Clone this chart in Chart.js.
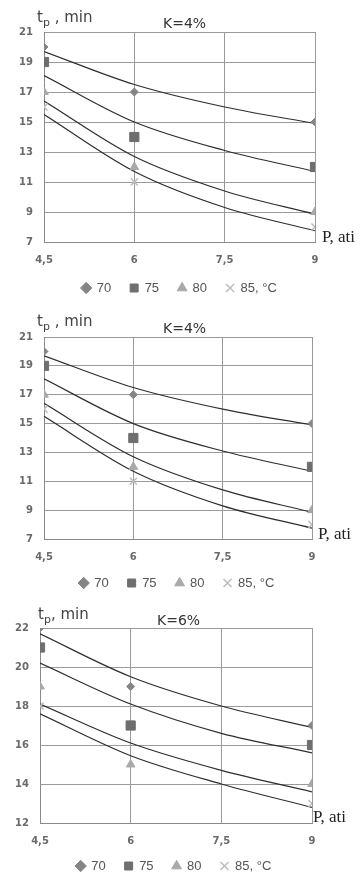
<!DOCTYPE html>
<html>
<head>
<meta charset="utf-8">
<script src="https://cdn.jsdelivr.net/npm/chart.js@4.4.1/dist/chart.umd.min.js"></script>
<style>
  body { margin: 0; background: #fff; width: 360px; height: 875px; overflow: hidden; position: relative; font-family: "DejaVu Sans", sans-serif; }
  canvas { position: absolute; left: 0; }
  .lbl { position: absolute; line-height: 1; white-space: nowrap; }
  .tp { font-size: 15px; color: #444; }
  .tp span { font-size: 11px; position: relative; top: 4px; }
  .kk { font-size: 14px; color: #333; }
  .pa { font-family: "Liberation Serif", serif; font-size: 17px; color: #222; }
</style>
</head>
<body>
<canvas id="chart1" width="360" height="304" style="top:0px"></canvas>
<canvas id="chart2" width="360" height="296" style="top:305px"></canvas>
<canvas id="chart3" width="360" height="284" style="top:601px"></canvas>

<div class="lbl tp" style="left:37px;top:10px">t<span>p</span> , min</div>
<div class="lbl kk" style="left:163px;top:16px">K=4%</div>
<div class="lbl pa" style="left:322px;top:228px">P, ati</div>

<div class="lbl tp" style="left:37px;top:314px">t<span>p</span> , min</div>
<div class="lbl kk" style="left:163px;top:321px">K=4%</div>
<div class="lbl pa" style="left:318px;top:525px">P, ati</div>

<div class="lbl tp" style="left:38px;top:607px">t<span>p</span>, min</div>
<div class="lbl kk" style="left:157px;top:613px">K=6%</div>
<div class="lbl pa" style="left:313px;top:808px">P, ati</div>

<script>
// pressure values (ati) where the measurements were taken
const pressure = [4.5, 6, 9];
const trendP = [4.5, 6, 7.5, 9];
const xTicks = [4.5, 6, 7.5, 9];
const tempLabels = ['70', '75', '80', '85, °C'];

// K=4% (same data in the two upper panels)
const k4_t70 = [20, 17, 15];
const k4_t75 = [19, 14, 12];
const k4_t80 = [17, 12, 9];
const k4_t85 = [16, 11, 8];
const k4_fit70 = [19.7, 17.5, 16.0, 14.9];
const k4_fit75 = [18.1, 15.0, 13.1, 11.7];
const k4_fit80 = [16.4, 12.7, 10.4, 8.85];
const k4_fit85 = [15.5, 11.7, 9.3, 7.75];

// K=6%
const k6_t70 = [22, 19, 17];
const k6_t75 = [21, 17, 16];
const k6_t80 = [19, 15, 14];
const k6_t85 = [18, null, 13];
const k6_fit70 = [21.7, 19.5, 18.0, 16.9];
const k6_fit75 = [20.2, 18.1, 16.6, 15.6];
const k6_fit80 = [18.1, 16.1, 14.7, 13.6];
const k6_fit85 = [17.6, 15.45, 14.0, 12.8];

const pts = (xs, ys) => xs.map((x, i) => ({ x: x, y: ys[i] }));

const markerStyles = [
  { pointStyle: 'rectRot', radius: 4, color: '#858585' },
  { pointStyle: 'rect', radius: 6.5, color: '#6e6e6e' },
  { pointStyle: 'triangle', radius: 5, color: '#a9a9a9' },
  { pointStyle: 'crossRot', radius: 5, color: '#bcbcbc' }
];

// move the legend closer to the x tick labels (and a bit to the right)
const legendNudge = {
  id: 'legendNudge',
  afterLayout(chart, args, opts) {
    chart.legend.top += opts.dy;
    chart.legend.bottom += opts.dy;
    chart.legend.left += opts.dx;
    chart.legend.right += opts.dx;
  }
};

function makeChart(id, series, fits, o) {
  const datasets = [];
  series.forEach((s, i) => {
    const m = markerStyles[i];
    datasets.push({
      label: tempLabels[i],
      data: pts(pressure, s),
      pointStyle: m.pointStyle,
      pointRadius: m.radius,
      backgroundColor: m.color,
      borderColor: m.color,
      borderWidth: i === 3 ? 1.5 : 1
    });
  });
  fits.forEach(f => {
    datasets.push({
      label: '',
      data: pts(trendP, f),
      showLine: true,
      pointRadius: 0,
      borderColor: '#2e2e2e',
      borderWidth: 1.2,
      cubicInterpolationMode: 'monotone',
      fill: false
    });
  });

  const tickFont = { family: 'DejaVu Sans', size: 10, weight: 'bold' };

  return new Chart(document.getElementById(id), {
    type: 'scatter',
    data: { datasets: datasets },
    plugins: [legendNudge],
    options: {
      responsive: false,
      animation: false,
      layout: { padding: { top: o.top, right: o.right, left: 0, bottom: 0 } },
      scales: {
        x: {
          type: 'linear',
          min: 4.5,
          max: 9,
          afterBuildTicks: s => { s.ticks = xTicks.map(v => ({ value: v })); },
          afterFit: s => { s.height = 28; },
          ticks: {
            padding: o.tickPad,
            color: '#6a6a6a',
            font: tickFont,
            callback: v => String(v).replace('.', ',')
          },
          grid: { color: '#9a9a9a', drawTicks: false },
          border: { color: '#8a8a8a' }
        },
        y: {
          min: o.ymin,
          max: o.ymax,
          afterFit: s => { s.width = o.left; },
          ticks: { stepSize: 2, padding: 11, color: '#6a6a6a', font: tickFont },
          grid: { color: '#9a9a9a', drawTicks: false },
          border: { color: '#8a8a8a' }
        }
      },
      plugins: {
        tooltip: { enabled: false },
        legendNudge: { dy: o.dy, dx: o.dx },
        legend: {
          position: 'bottom',
          maxHeight: 34,
          labels: {
            usePointStyle: true,
            boxWidth: 8,
            boxHeight: 8,
            padding: 19,
            color: '#555',
            font: { family: 'Liberation Sans', size: 13 },
            filter: item => item.text !== ''
          }
        }
      }
    }
  });
}

const chart1 = makeChart('chart1',
  [k4_t70, k4_t75, k4_t80, k4_t85],
  [k4_fit70, k4_fit75, k4_fit80, k4_fit85],
  { top: 32, right: 45, left: 44, tickPad: 12, dy: -7.5, dx: 22, ymin: 7, ymax: 21 });

const chart2 = makeChart('chart2',
  [k4_t70, k4_t75, k4_t80, k4_t85],
  [k4_fit70, k4_fit75, k4_fit80, k4_fit85],
  { top: 32, right: 48, left: 44, tickPad: 12, dy: -9.5, dx: 21, ymin: 7, ymax: 21 });

const chart3 = makeChart('chart3',
  [k6_t70, k6_t75, k6_t80, k6_t85],
  [k6_fit70, k6_fit75, k6_fit80, k6_fit85],
  { top: 27, right: 48, left: 40, tickPad: 12, dy: -10.5, dx: 18, ymin: 12, ymax: 22 });
</script>
</body>
</html>
